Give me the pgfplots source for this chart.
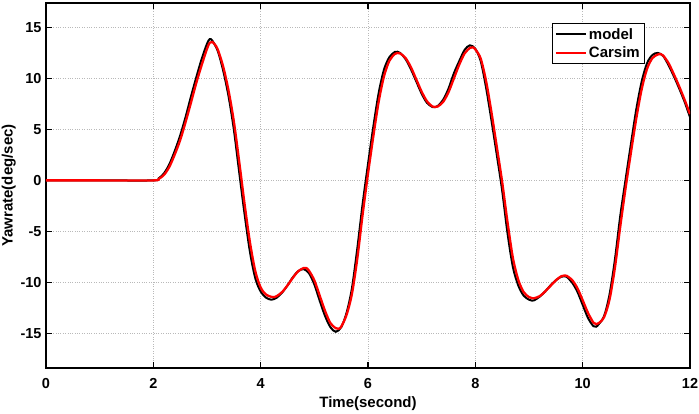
\documentclass[border=0pt]{standalone}
\usepackage{fontspec}
\setmainfont{Liberation Sans}
\usepackage{pgfplots}
\pgfplotsset{compat=1.18}

\newcommand{\tickfont}{\fontsize{14.5bp}{16bp}\selectfont\bfseries}
\newcommand{\labfont}{\fontsize{15bp}{17bp}\selectfont\bfseries}

\begin{document}
\begin{tikzpicture}
\begin{axis}[
  width=644bp, height=365bp, scale only axis,
  xmin=0, xmax=12, ymin=-18.4, ymax=17.4,
  xtick={0,2,...,12}, ytick={-15,-10,...,15},
  tick align=inside, major tick length=6bp,
  axis line style={line width=1.6bp},
  every tick/.style={black, line width=1.2bp},
  grid=major, grid style={dotted, gray!55, line width=0.8bp},
  xlabel={Time(second)}, ylabel={Yawrate(deg/sec)},
  tick label style={font=\tickfont},
  xticklabel style={yshift=-7bp},
  yticklabel style={xshift=-1bp},
  xlabel style={yshift=-1bp},
  ylabel style={yshift=-2bp},
  label style={font=\labfont},
  /pgf/number format/assume math mode=true,
  legend style={at={(0.930,0.945)}, anchor=north east, draw=black,
    line width=1.2bp, font=\labfont, inner sep=2.5bp, row sep=2bp},
  legend cell align=left,
  legend image code/.code={\draw[#1] (0bp,0bp) -- (30bp,0bp);},
]
\addplot[black, line width=2bp, smooth] coordinates {
(0,0) (1.0,0) (2.0,0) (2.1,0.2) (2.2,0.7) (2.3,1.6) (2.4,2.9) (2.5,4.4)
(2.6,6.2) (2.7,8.2) (2.8,10.1) (2.9,11.9) (3.0,13.4) (3.05,13.85) (3.1,13.7)
(3.2,12.7) (3.3,10.8) (3.4,8.3) (3.5,5.0) (3.6,0.8) (3.7,-3.3) (3.8,-7.0)
(3.9,-9.6) (4.0,-10.9) (4.1,-11.5) (4.2,-11.7) (4.3,-11.5) (4.4,-11.0)
(4.5,-10.3) (4.6,-9.5) (4.7,-8.9) (4.8,-8.7) (4.9,-9.1) (5.0,-10.2)
(5.1,-11.8) (5.2,-13.3) (5.3,-14.4) (5.4,-14.85) (5.5,-14.4) (5.6,-13.0)
(5.7,-10.6) (5.8,-6.7) (5.9,-2.3) (6.0,1.6) (6.1,5.3) (6.2,8.6) (6.3,10.9)
(6.4,12.1) (6.5,12.6) (6.55,12.62) (6.6,12.5) (6.7,11.9) (6.8,10.9) (6.9,9.7)
(7.0,8.5) (7.1,7.6) (7.2,7.2) (7.25,7.18) (7.3,7.3) (7.4,7.9) (7.5,9.0)
(7.6,10.5) (7.7,11.7) (7.8,12.8) (7.9,13.25) (8.0,12.9) (8.1,11.7) (8.2,9.1)
(8.3,5.9) (8.4,2.5) (8.5,-1.0) (8.6,-5.2) (8.7,-8.5) (8.8,-10.3) (8.9,-11.3)
(9.0,-11.7) (9.06,-11.8) (9.1,-11.75) (9.2,-11.4) (9.3,-10.9) (9.4,-10.3)
(9.5,-9.8) (9.6,-9.45) (9.66,-9.4) (9.7,-9.45) (9.8,-10.0) (9.9,-10.9)
(10.0,-12.2) (10.1,-13.5) (10.2,-14.3) (10.25,-14.35) (10.3,-14.1)
(10.4,-13.3) (10.5,-11.2) (10.6,-7.8) (10.7,-3.5) (10.8,0.1) (10.9,3.6)
(11.0,7.0) (11.1,9.7) (11.2,11.5) (11.3,12.3) (11.4,12.5) (11.5,12.2)
(11.6,11.3) (11.7,10.2) (11.8,9.0) (11.9,7.7) (12.0,6.2)
};
\addlegendentry{model}
\addplot[red, line width=2.3bp, smooth] coordinates {
(0,0) (1.0,0) (2.0,0) (2.1,0.15) (2.2,0.55) (2.3,1.35) (2.4,2.55) (2.5,3.95)
(2.6,5.7) (2.7,7.6) (2.8,9.55) (2.9,11.3) (3.0,12.9) (3.05,13.5) (3.1,13.58)
(3.15,13.3) (3.2,12.85) (3.3,11.2) (3.4,8.85) (3.5,5.8) (3.6,1.85) (3.7,-2.3)
(3.8,-6.05) (3.9,-8.9) (4.0,-10.5) (4.1,-11.2) (4.2,-11.42) (4.25,-11.45)
(4.3,-11.35) (4.4,-10.95) (4.5,-10.3) (4.6,-9.55) (4.7,-8.9) (4.8,-8.6)
(4.85,-8.6) (4.9,-8.85) (5.0,-9.8) (5.1,-11.3) (5.2,-12.8) (5.3,-14.0)
(5.4,-14.5) (5.45,-14.55) (5.5,-14.35) (5.6,-13.2) (5.7,-11.15) (5.8,-7.7)
(5.9,-3.35) (6.0,0.65) (6.1,4.35) (6.2,7.75) (6.3,10.25) (6.4,11.75) (6.5,12.4)
(6.55,12.5) (6.6,12.45) (6.7,12.0) (6.8,11.1) (6.9,9.9) (7.0,8.7) (7.1,7.75)
(7.2,7.25) (7.25,7.2) (7.3,7.25) (7.4,7.7) (7.5,8.65) (7.6,10.0) (7.7,11.35)
(7.8,12.45) (7.9,13.0) (7.95,13.05) (8.0,12.85) (8.1,11.95) (8.2,9.75)
(8.3,6.7) (8.4,3.3) (8.5,-0.15) (8.6,-4.1) (8.7,-7.6) (8.8,-9.75) (8.9,-10.95)
(9.0,-11.45) (9.06,-11.55) (9.1,-11.55) (9.2,-11.35) (9.3,-10.9) (9.4,-10.35)
(9.5,-9.8) (9.6,-9.4) (9.66,-9.33) (9.7,-9.35) (9.8,-9.75) (9.9,-10.55)
(10.0,-11.75) (10.1,-13.0) (10.2,-13.95) (10.25,-14.1) (10.3,-14.0)
(10.4,-13.4) (10.5,-11.7) (10.6,-8.6) (10.7,-4.55) (10.8,-0.75) (10.9,2.75)
(11.0,6.1) (11.1,8.95) (11.2,10.95) (11.3,12.0) (11.4,12.35) (11.45,12.4)
(11.5,12.25) (11.6,11.5) (11.7,10.4) (11.8,9.2) (11.9,7.9) (12.0,6.5)
};
\addlegendentry{Carsim}
\end{axis}
\pgfresetboundingbox
\path ([shift={(-46bp,-46bp)}]current axis.south west) rectangle ([shift={(9bp,3bp)}]current axis.north east);
\end{tikzpicture}
\end{document}
